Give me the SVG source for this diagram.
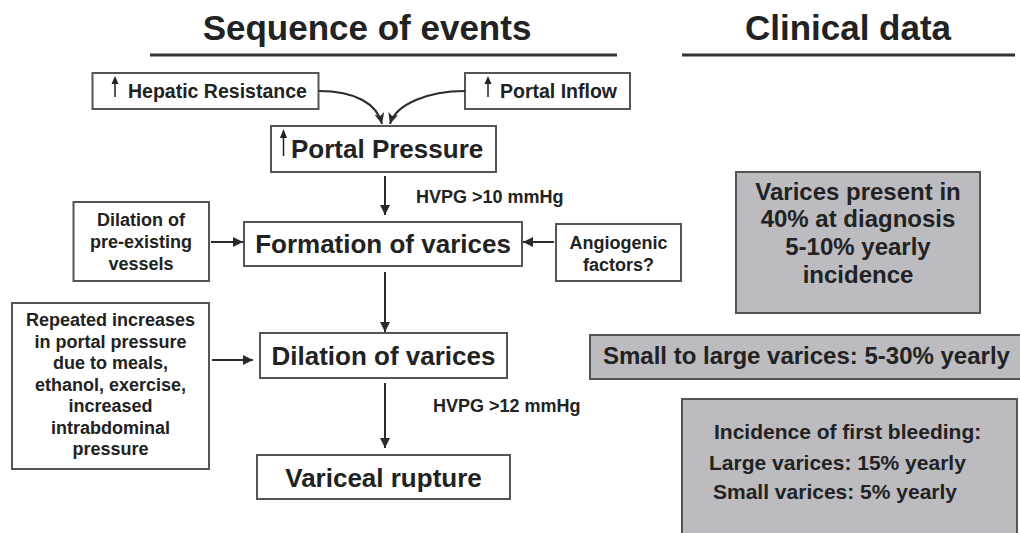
<svg xmlns="http://www.w3.org/2000/svg" width="1020" height="533" viewBox="0 0 1020 533">
<style>
text{font-family:"Liberation Sans",Arial,sans-serif;font-weight:bold;fill:#222}
.box{fill:#fff;stroke:#555;stroke-width:2}
.gbox{fill:#bbbbc0;stroke:#555;stroke-width:2}
.ln{fill:none;stroke:#2a2a2a;stroke-width:2}
.h{font-size:35px}
.s18{font-size:18px}
.s19{font-size:19.5px}
.s21{font-size:21px}
.s24{font-size:24px}
.s26{font-size:26px}
.c{text-anchor:middle}
</style>
<defs>
<marker id="ah" viewBox="0 0 10 10" refX="10" refY="5" markerWidth="5" markerHeight="5" orient="auto" markerUnits="strokeWidth">
<path d="M0,0 L10,5 L0,10 z" fill="#2a2a2a"/>
</marker>
<marker id="av" viewBox="0 0 12 10" refX="11" refY="5" markerWidth="6" markerHeight="5" orient="auto" markerUnits="strokeWidth">
<path d="M0,0 L11,5 L0,10 L3,5 z" fill="#2a2a2a"/>
</marker>
</defs>

<g id="headings">
<text class="h c" x="367" y="40">Sequence of events</text>
<line x1="150" y1="55" x2="617" y2="55" stroke="#333" stroke-width="3"/>
<text class="h c" x="848" y="40">Clinical data</text>
<line x1="682" y1="55" x2="1015" y2="55" stroke="#333" stroke-width="3"/>
</g>

<g id="hepatic">
<rect class="box" x="92.5" y="73" width="226" height="36"/>
<line x1="115" y1="97" x2="115" y2="82" stroke="#222" stroke-width="1.5"/>
<path d="M111.5,84 L115,76 L118.5,84 z" fill="#222"/>
<text class="s19" x="128" y="98">Hepatic Resistance</text>
</g>

<g id="inflow">
<rect class="box" x="465" y="73" width="165" height="36"/>
<line x1="488" y1="97" x2="488" y2="82" stroke="#222" stroke-width="1.5"/>
<path d="M484.5,84 L488,76 L491.5,84 z" fill="#222"/>
<text class="s19" x="500" y="98">Portal Inflow</text>
</g>

<g id="portal-pressure">
<rect class="box" x="271" y="126" width="225" height="46"/>
<line x1="283.5" y1="156" x2="283.5" y2="136" stroke="#222" stroke-width="1.5"/>
<path d="M280,138 L283.5,129 L287,138 z" fill="#222"/>
<text class="s26" x="291" y="158">Portal Pressure</text>
</g>

<g id="preexisting">
<rect class="box" x="73.5" y="202" width="135.5" height="79"/>
<text class="s18 c" x="141" y="226">Dilation of</text>
<text class="s18 c" x="141" y="248">pre-existing</text>
<text class="s18 c" x="141" y="270">vessels</text>
</g>

<g id="formation">
<rect class="box" x="244" y="222" width="278" height="44"/>
<text class="s26 c" x="383" y="253">Formation of varices</text>
</g>

<g id="angiogenic">
<rect class="box" x="556" y="224" width="125" height="57"/>
<text class="s18 c" x="618.5" y="249">Angiogenic</text>
<text class="s18 c" x="618.5" y="271">factors?</text>
</g>

<g id="repeated">
<rect class="box" x="12" y="303" width="197" height="166"/>
<text class="s18 c" x="110.5" y="326">Repeated increases</text>
<text class="s18 c" x="110.5" y="347.5">in portal pressure</text>
<text class="s18 c" x="110.5" y="369">due to meals,</text>
<text class="s18 c" x="110.5" y="390.5">ethanol, exercise,</text>
<text class="s18 c" x="110.5" y="412">increased</text>
<text class="s18 c" x="110.5" y="433.5">intrabdominal</text>
<text class="s18 c" x="110.5" y="455">pressure</text>
</g>

<g id="dilation-varices">
<rect class="box" x="260" y="333" width="247" height="45"/>
<text class="s26 c" x="383.5" y="365">Dilation of varices</text>
</g>

<g id="rupture">
<rect class="box" x="257" y="455" width="253" height="44"/>
<text class="s26 c" x="383.5" y="487">Variceal rupture</text>
</g>

<g id="varices-present">
<rect class="gbox" x="736" y="172" width="244" height="141"/>
<text class="s24 c" x="858" y="200">Varices present in</text>
<text class="s24 c" x="858" y="227">40% at diagnosis</text>
<text class="s24 c" x="858" y="255">5-10% yearly</text>
<text class="s24 c" x="858" y="283">incidence</text>
</g>

<g id="small-to-large">
<rect class="gbox" x="590" y="335" width="440" height="44"/>
<text class="s24" x="603" y="364">Small to large varices: 5-30% yearly</text>
</g>

<g id="first-bleeding">
<rect class="gbox" x="682" y="399" width="335" height="150"/>
<text class="s21" x="714" y="439">Incidence of first bleeding:</text>
<text class="s21" x="709" y="470">Large varices: 15% yearly</text>
<text class="s21" x="713" y="499">Small varices: 5% yearly</text>
</g>

<g id="connectors">
<path class="ln" d="M318.5,91 C356,91 377,104 382,124" marker-end="url(#av)"/>
<path class="ln" d="M465,91 C428,91 396,104 390,124" marker-end="url(#av)"/>
<line class="ln" x1="385" y1="176" x2="385" y2="215" marker-end="url(#ah)"/>
<text class="s18" x="416" y="203">HVPG &gt;10 mmHg</text>
<line class="ln" x1="211" y1="242" x2="243" y2="242" marker-end="url(#ah)"/>
<line class="ln" x1="554" y1="242" x2="523" y2="242" marker-end="url(#ah)"/>
<line class="ln" x1="385" y1="272" x2="385" y2="332" marker-end="url(#ah)"/>
<line class="ln" x1="212" y1="360" x2="253" y2="360" marker-end="url(#ah)"/>
<line class="ln" x1="385" y1="383" x2="385" y2="448" marker-end="url(#ah)"/>
<text class="s18" x="433" y="412">HVPG &gt;12 mmHg</text>
</g>
</svg>
